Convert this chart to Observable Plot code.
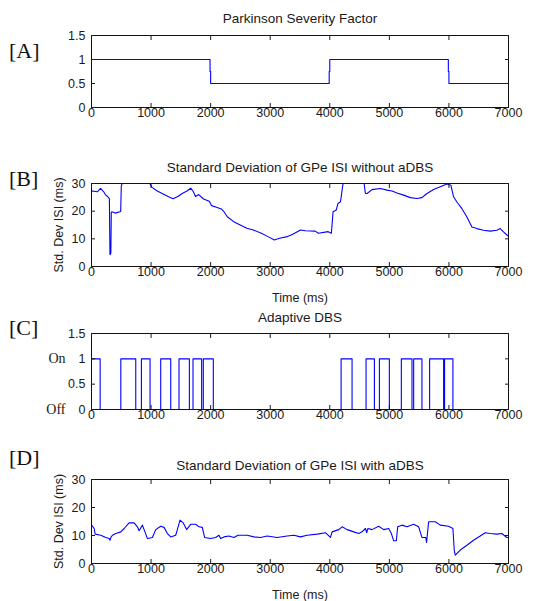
<!DOCTYPE html>
<html><head><meta charset="utf-8">
<script src="https://cdn.jsdelivr.net/npm/d3@7"></script>
<script src="https://cdn.jsdelivr.net/npm/@observablehq/plot@0.6"></script>
<style>
body{margin:0;background:#fff;}
#wrap{position:relative;width:535px;height:601px;overflow:hidden;background:#fff;}
.panel{position:absolute;left:0;}
.tag{position:absolute;left:9px;font-family:"Liberation Serif","Times New Roman",serif;font-size:22px;color:#111;line-height:1;}
</style></head><body><div id="wrap"></div>
<script>
// ---- data ----
const xTicks = [0, 1000, 2000, 3000, 4000, 5000, 6000, 7000];
const ticksA = [0, 0.5, 1, 1.5];
const ticksISI = [0, 10, 20, 30];
const onOffTicks = [0, 1];
const onOffLabels = ["Off", "On"];

const titles = ["Parkinson Severity Factor", "Standard Deviation of GPe ISI without aDBS", "Adaptive DBS", "Standard Deviation of GPe ISI with aDBS"];
const tags = ["[A]", "[B]", "[C]", "[D]"];
const yLabel = "Std. Dev ISI (ms)";
const xLabel = "Time (ms)";

// [A] Parkinson severity factor (step-after)
const sevT = [0, 1990, 2000, 3990, 4000, 5990, 6000, 7000];
const sevV = [1, 0.75, 0.5, 0.75, 1, 0.75, 0.5, 0.5];

// [B] std dev of GPe ISI without aDBS
const tB = [0,16,97,151,205,232,270,300,310,325,332,340,400,476,490,500,519,560,800,978,1016,1097,1178,1286,1368,1449,1530,1611,1665,1708,1746,1800,1881,1978,2016,2097,2178,2224,2279,2388,2497,2607,2716,2852,2962,3071,3153,3290,3372,3508,3590,3754,3809,3973,4027,4055,4109,4137,4180,4219,4246,4400,4570,4598,4626,4709,4849,4961,5045,5128,5240,5352,5464,5547,5631,5743,5855,5966,6033,6078,6134,6218,6302,6386,6469,6581,6693,6805,6860,6916,6983,7000];
const vB = [27.2,27.3,27,28.2,27,26,25.3,24.5,4.3,4.8,19.5,19.8,19.3,19.8,20,29,30.5,33,33,30,28.6,27.4,26.5,25.3,24.5,25.3,26.5,27.4,28.3,27.1,25.3,26,24.4,23.6,22,21.4,20.8,19.8,18.0,16.2,15.0,13.8,13.2,12.0,10.8,9.6,10.2,10.8,11.6,13.2,12.9,12.8,12.0,12.6,12.0,19.8,20.4,22.8,23.4,29.5,31,33,31,26.4,26.4,27.8,28.2,27.6,27.3,26.6,25.8,24.9,24.6,24.9,26.4,27.8,28.8,29.8,29.4,25.2,23.3,20.9,17.9,14.3,13.7,13.1,12.8,13.1,13.7,12.5,11.2,11];

// [C] adaptive DBS pulses (on / off times)
const dbsOn  = [0, 492, 838, 1162, 1469, 1704, 1877, 4190, 4609, 4833, 5201, 5408, 5676, 5927];
const dbsOff = [145, 743, 983, 1330, 1643, 1849, 2045, 4374, 4749, 5000, 5380, 5547, 5911, 6067];

// [D] std dev of GPe ISI with aDBS
const tD = [0,45,61,156,240,296,310,330,352,408,492,548,631,715,771,799,855,939,1022,1078,1162,1218,1274,1330,1413,1441,1486,1540,1597,1665,1749,1805,1860,1899,2000,2084,2140,2168,2224,2307,2391,2458,2614,2726,2838,2950,3114,3285,3397,3508,3620,3788,3927,4011,4039,4151,4207,4291,4402,4486,4542,4598,4620,4640,4709,4821,4905,4989,5028,5073,5117,5140,5212,5296,5408,5492,5547,5610,5625,5659,5771,5855,5994,6067,6089,6106,6190,6302,6413,6525,6609,6693,6805,6888,6972,7000];
const vD = [13.7,12.5,10.5,10.1,9.3,8.9,8.3,9.5,10.1,10.7,11.3,12.5,14.5,14.5,13.1,11.7,13.7,8.9,9.3,12.1,13.3,12.9,10.7,9.5,10.1,12.1,15.5,14.5,12.1,14,14,13.1,12.9,9.3,8.9,9.3,10.1,8.9,9.5,9.8,9.3,10.1,10.1,9.5,9.3,9.8,9.3,9.8,10.1,9.5,10.1,10.5,11,9.3,11.3,12.1,13.1,12.1,11.3,10.7,11.3,12.5,11,12.5,12.1,13.3,12.1,12.5,11,8.1,8.1,13.1,13.7,13.1,14,13.1,9.3,9.3,7.5,14.9,14.9,13.7,13.3,12.5,4.8,3,4.8,6.5,8.3,9.8,11,10.7,10.5,10.7,9.3,9.3];

// ---- build tables ----
const zip = (T, V) => T.map((t, i) => ({t, v: V[i]}));
const dataA = zip(sevT, sevV);
const dataB = zip(tB, vB);
const dataD = zip(tD, vD);
const dataC = [];
dbsOn.forEach((on, i) => { dataC.push({t: on, v: 1}); dataC.push({t: dbsOff[i], v: 0}); });
dataC.push({t: 7000, v: 0});

const FONT = "Liberation Sans, Arial, sans-serif";
const fmt = d => String(d);
const blank = () => "";

function panel({top, marginTop, marginBottom, frameH, yDomain, yTicks, data, curve, title, titleGap, ylab, xlab, extra = []}) {
  const svg = Plot.plot({
    width: 535,
    height: marginTop + frameH + marginBottom,
    marginLeft: 91, marginRight: 27, marginTop, marginBottom,
    style: {fontFamily: FONT, fontSize: "12.5px", color: "#1a1a1a", background: "transparent", overflow: "visible"},
    x: {domain: [0, 7000]},
    y: {domain: yDomain},
    marks: [
      Plot.line(data, {x: "t", y: "v", stroke: "#0000ff", strokeWidth: 1.1, curve, clip: true}),
      Plot.frame({stroke: "#111", strokeWidth: 1}),
      Plot.axisX({ticks: xTicks, anchor: "bottom", tickSize: -4, tickPadding: 5, tickFormat: fmt,
        label: xlab ?? null, labelArrow: "none", labelAnchor: "center", labelOffset: 35}),
      Plot.axisX({ticks: xTicks, anchor: "top", tickSize: -4, tickFormat: blank, label: null}),
      Plot.axisY({ticks: yTicks, anchor: "left", tickSize: -4, tickPadding: 10, tickFormat: fmt,
        label: ylab ?? null, labelArrow: "none", labelAnchor: "center", labelOffset: 37}),
      Plot.axisY({ticks: yTicks, anchor: "right", tickSize: -4, tickFormat: blank, label: null}),
      Plot.text([title], {frameAnchor: "top", dy: -titleGap, fontSize: 13.5, lineAnchor: "middle", fill: "#1a1a1a"}),
      ...extra
    ]
  });
  svg.classList.add("panel");
  svg.style.top = top + "px";
  document.getElementById("wrap").appendChild(svg);
}

panel({top: 5, marginTop: 30, marginBottom: 22, frameH: 72, yDomain: [0, 1.5], yTicks: ticksA,
  data: dataA, curve: "step-after", title: titles[0], titleGap: 17});
panel({top: 150, marginTop: 33, marginBottom: 45, frameH: 83, yDomain: [0, 30], yTicks: ticksISI,
  data: dataB, curve: "linear", title: titles[1], titleGap: 16, ylab: yLabel, xlab: xLabel});
panel({top: 307, marginTop: 26, marginBottom: 22, frameH: 76, yDomain: [0, 1.5], yTicks: ticksA,
  data: dataC, curve: "step-after", title: titles[2], titleGap: 16,
  extra: [Plot.axisY({ticks: onOffTicks, anchor: "left", tickSize: 0, tickPadding: 26,
    tickFormat: d => onOffLabels[onOffTicks.indexOf(d)], label: null,
    fontFamily: "Liberation Serif, Times New Roman, serif", fontSize: 14})]});
panel({top: 440, marginTop: 39, marginBottom: 38, frameH: 84, yDomain: [0, 30], yTicks: ticksISI,
  data: dataD, curve: "linear", title: titles[3], titleGap: 14, ylab: yLabel, xlab: xLabel});

// panel tags
const tagTops = [39.5, 167.5, 316.5, 446.5];
tags.forEach((t, i) => {
  const d = document.createElement("div");
  d.className = "tag";
  d.textContent = t;
  d.style.top = tagTops[i] + "px";
  document.getElementById("wrap").appendChild(d);
});
</script></body></html>
